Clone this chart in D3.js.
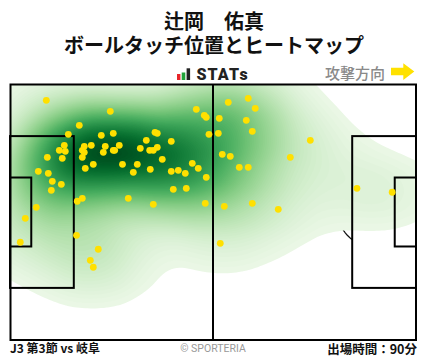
<!DOCTYPE html>
<html><head><meta charset="utf-8">
<script src="https://cdn.jsdelivr.net/npm/d3@7"></script>
<style>body{margin:0;background:#fff}svg{display:block}</style>
</head><body>
<svg id="chart" width="428" height="359"></svg>
<script>
// ---- text ----
const titleText = "辻岡　佑真";
const subtitleText = "ボールタッチ位置とヒートマップ";
const logoText = "STATs";
const directionText = "攻撃方向";
const footerLeftText = "J3 第3節 vs 岐阜";
const footerCenterText = "© SPORTERIA";
const footerRightText = "出場時間：90分";

// ---- pitch dimensions (metres) ----
const pitchLength = 105;
const pitchWidth = 68;

// ---- ball touches (metres from own goal line / top touchline) ----
const touchX = [9.39,25.94,17.92,48.18,50.25,50.76,15.08,51.46,23.61,26.71,37.50,38.09,35.25,41.71,
  14.04,12.75,14.30,19.21,21.02,24.64,28.26,18.70,19.21,24.13,26.71,27.08,33.70,36.13,37.06,38.09,
  9.65,13.52,18.70,39.38,21.54,29.09,32.92,19.47,31.89,36.28,47.14,48.69,41.71,43.52,45.33,
  7.32,9.90,10.94,13.27,10.68,50.76,42.23,45.59,30.59,18.70,17.40,6.80,37.06,50.50,
  3.96,2.66,17.20,22.83,20.77,21.54,
  56.45,61.62,63.43,54.12,61.11,62.66,53.87,77.66,54.90,56.97,72.49,59.30,61.62,
  89.73,98.84,55.42,62.66,69.38,54.38];
const touchY = [4.33,7.25,10.97,6.72,8.31,8.84,13.36,13.36,13.63,13.09,12.83,13.09,14.95,15.22,
  16.28,17.61,17.87,16.55,16.28,16.55,16.28,17.61,18.14,18.14,17.61,17.61,17.08,17.61,17.61,16.81,
  19.47,19.73,19.47,20.00,21.33,21.33,21.33,22.39,23.45,22.66,21.06,22.39,23.19,22.92,23.72,
  23.19,23.72,25.84,26.64,28.23,24.78,27.97,27.70,30.36,30.36,31.15,32.75,31.95,31.69,
  35.67,42.04,40.19,43.90,46.83,48.68,
  4.86,3.80,6.45,9.11,9.64,12.56,13.09,14.95,18.67,19.20,19.47,22.12,22.12,
  27.70,28.76,32.48,31.69,33.28,42.31];

const svg = d3.select("#chart");
const X0 = 10, X1 = 416, Y0 = 84, Y1 = 340;
const xs = d3.scaleLinear().domain([0, pitchLength]).range([X0, X1]);
const ys = d3.scaleLinear().domain([0, pitchWidth]).range([Y0, Y1]);

// ---- header ----
const cjk = "'Noto Sans CJK JP','Noto Sans',sans-serif";
svg.append("text").attr("x", 214).attr("y", 29).attr("text-anchor", "middle")
  .attr("font-family", cjk).attr("font-weight", 700).attr("font-size", 20).attr("fill", "#111").text(titleText);
svg.append("text").attr("x", 214).attr("y", 53).attr("text-anchor", "middle")
  .attr("font-family", cjk).attr("font-weight", 700).attr("font-size", 20).attr("fill", "#111").text(subtitleText);

// logo
const logo = svg.append("g");
logo.append("rect").attr("x", 177).attr("y", 74).attr("width", 3.4).attr("height", 6).attr("fill", "#e8252a");
logo.append("rect").attr("x", 181.7).attr("y", 72.5).attr("width", 3.6).attr("height", 7.5).attr("fill", "#22a33a");
logo.append("rect").attr("x", 186.6).attr("y", 68.3).attr("width", 3.5).attr("height", 11.7).attr("fill", "#222");
logo.append("text").attr("x", 196.5).attr("y", 80.3).attr("font-family", "Roboto, 'DejaVu Sans', sans-serif")
  .attr("font-weight", 900).attr("font-size", 16).attr("letter-spacing", 1.1).attr("fill", "#222").text(logoText);

// direction
svg.append("text").attr("x", 385).attr("y", 78.5).attr("text-anchor", "end")
  .attr("font-family", cjk).attr("font-weight", 500).attr("font-size", 15).attr("fill", "#8a8a8a").text(directionText);
svg.append("path").attr("d", "M391,67.7 L403.3,67.7 L403.3,63.3 L414.3,71.6 L403.3,80 L403.3,75.3 L391,75.3 Z")
  .attr("fill", "#ffe100");

// ---- pitch ----
svg.append("rect").attr("x", X0).attr("y", Y0).attr("width", X1 - X0).attr("height", Y1 - Y0).attr("fill", "#fff");

// markings drawn under the heat map
const under = svg.append("g").attr("fill", "none").attr("stroke", "#111").attr("stroke-width", 1.3);
const rx = xs(9.15) - xs(0), ry = ys(9.15) - ys(0);
under.append("ellipse").attr("cx", xs(52.5)).attr("cy", ys(34)).attr("rx", rx).attr("ry", ry);
[[11, 1], [pitchLength - 11, -1]].forEach(([sx, dir]) => {
  const a = Math.acos(5.5 / 9.15);
  const arc = d3.range(-a, a + 0.001, a / 30).map(t => [xs(sx + dir * 9.15 * Math.cos(t)), ys(34 + 9.15 * Math.sin(t))]);
  under.append("path").attr("d", d3.line()(arc));
});

// heat map (KDE, wider horizontally than vertically)
const clip = svg.append("clipPath").attr("id", "pclip");
clip.append("rect").attr("x", X0).attr("y", Y0).attr("width", X1 - X0).attr("height", Y1 - Y0);
const pts = touchX.map((v, i) => [xs(v), ys(touchY[i])]);
const K = 1.35;
const density = d3.contourDensity()
  .x(d => (d[0] - X0) / K).y(d => d[1] - Y0)
  .size([(X1 - X0) / K, Y1 - Y0]).cellSize(2).bandwidth(25);
const contours = density.contours(pts);
const maxD = contours.max;
const N = 90, LOW = 0.025;
const levels = d3.range(N).map(i => maxD * (LOW + (1 - LOW) * i / N));
const shade = d3.scalePow().exponent(0.8).domain([0, maxD]).range([0.04, 0.97]);
const color = t => d3.interpolateGreens(shade(t));
const heat = svg.append("g").attr("clip-path", "url(#pclip)")
  .append("g").attr("transform", `translate(${X0},${Y0}) scale(${K},1)`);
heat.selectAll("path").data(levels).join("path")
  .attr("d", t => d3.geoPath()(contours(t)))
  .attr("fill", t => color(t));

// lines on top
const lines = svg.append("g").attr("fill", "none").attr("stroke", "#000").attr("stroke-width", 2);
lines.append("rect").attr("x", X0 + 0.5).attr("y", Y0 + 0.5).attr("width", X1 - X0 - 0.5).attr("height", Y1 - Y0 - 0.5);
lines.append("line").attr("x1", xs(52.5)).attr("x2", xs(52.5)).attr("y1", Y0).attr("y2", Y1);
const boxes = [[0, 16.5, 13.84, 54.16], [0, 5.5, 24.84, 43.16],
  [pitchLength - 16.5, pitchLength, 13.84, 54.16], [pitchLength - 5.5, pitchLength, 24.84, 43.16]];
boxes.forEach(([a, b, c, d]) => {
  lines.append("rect").attr("x", xs(a)).attr("y", ys(c)).attr("width", xs(b) - xs(a)).attr("height", ys(d) - ys(c));
});

// touches
svg.append("g").selectAll("circle").data(pts).join("circle")
  .attr("cx", d => d[0]).attr("cy", d => d[1]).attr("r", 3.4).attr("fill", "#ffe000");

// ---- footer ----
svg.append("text").attr("x", 10).attr("y", 353).attr("font-family", cjk).attr("font-weight", 700)
  .attr("font-size", 12).attr("fill", "#111").text(footerLeftText);
svg.append("text").attr("x", 213).attr("y", 352).attr("text-anchor", "middle").attr("font-family", "Roboto, 'Noto Sans', sans-serif")
  .attr("font-size", 10.5).attr("fill", "#999").text(footerCenterText);
svg.append("text").attr("x", 417).attr("y", 353.5).attr("text-anchor", "end").attr("font-family", cjk).attr("font-weight", 700)
  .attr("font-size", 12.5).attr("fill", "#111").text(footerRightText);
</script>
</body></html>
